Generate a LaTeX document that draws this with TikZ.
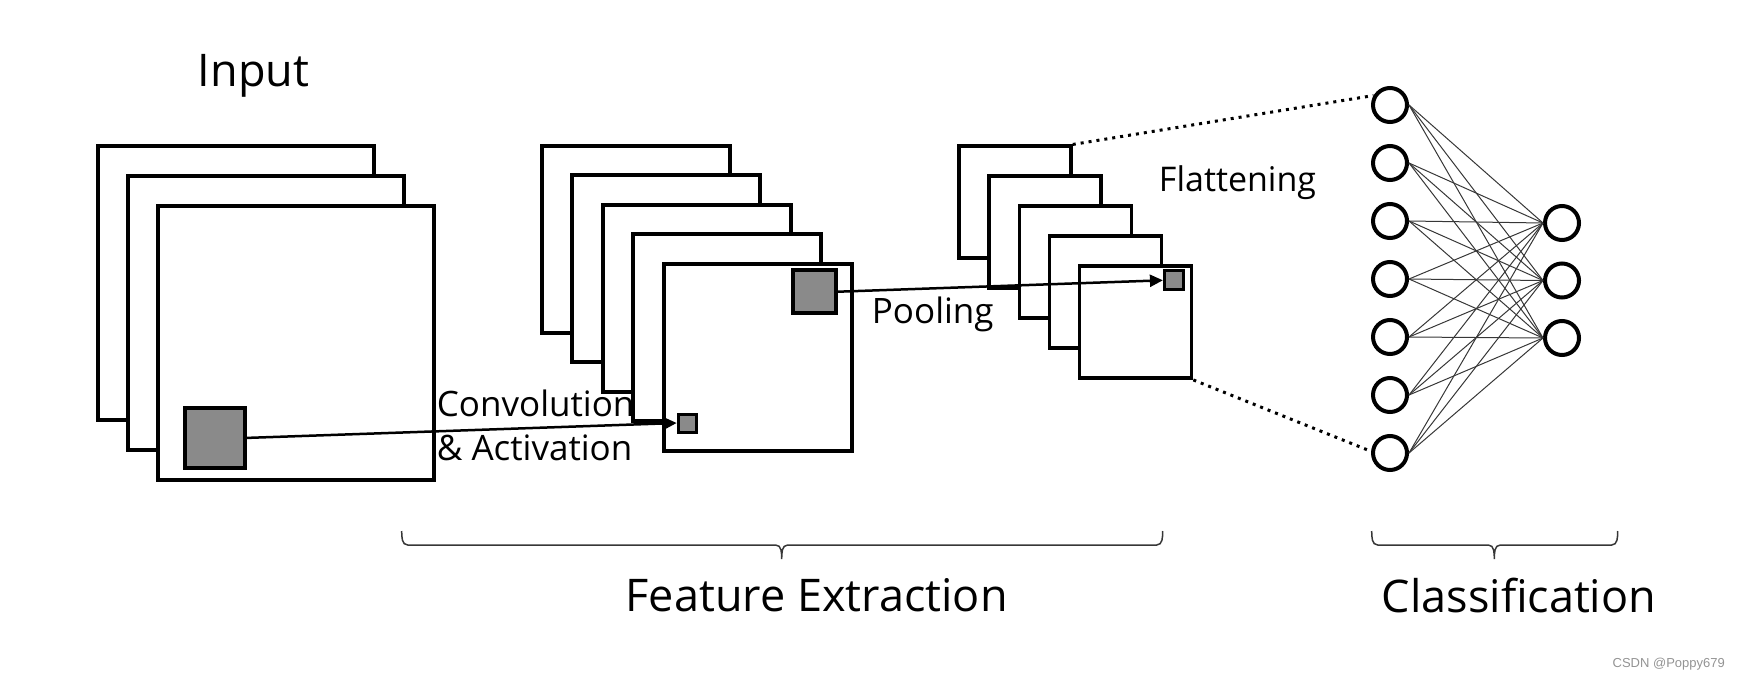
\documentclass[tikz,border=0pt]{standalone}
\usepackage{fontspec}
\setmainfont{Open Sans}
\newfontfamily\markfont{Liberation Sans}
\usepackage{tikz}
\usetikzlibrary{arrows.meta,positioning}
\definecolor{patchgray}{RGB}{138,138,138}
\definecolor{wiregray}{RGB}{55,55,55}
% brace under a group: left x, tip x, right x
\newcommand{\groupbrace}[3]{%
  \draw[brc] (#1,531) to[out=-90,in=180] (#1+6,545) -- (#2-6,545)
    to[out=0,in=90] (#2,559) to[out=90,in=180] (#2+6,545) -- (#3-6,545)
    to[out=0,in=-90] (#3,531);}

\begin{document}
\begin{tikzpicture}[x=1pt,y=-1pt,
  fmap/.style={draw,line width=4pt,fill=white,inner sep=0pt},
  patch/.style={draw,line width=#1,fill=patchgray,inner sep=0pt},
  neuron/.style={draw,circle,line width=4pt,fill=white,minimum size=34pt,inner sep=0pt},
  wire/.style={wiregray,line width=1pt},
  arr/.style={line width=2.5pt,-{Triangle[length=13pt,width=12pt]}},
  flat/.style={line width=3pt,dash pattern=on 3pt off 5pt},
  brc/.style={wiregray,line width=1.5pt},
  lbl/.style={inner sep=0pt,font=\fontsize{35}{43}\selectfont},
  big/.style={inner sep=0pt,font=\fontsize{45}{54}\selectfont}]
\useasboundingbox (0,0) rectangle (1740,680);

% input
\node[big,anchor=base] (intxt) at (253.5,86.7) {Input};
\foreach \i in {0,1,2}
  \node[fmap,minimum width=276pt,minimum height=274pt] (in\i) at ({235.8+30*\i},{283.4+30*\i}) {};
\node[patch=4pt,minimum size=60pt] (inpatch) at (215,437.9) {};

% convolution
\foreach \i in {0,...,4}
  \node[fmap,minimum width=188pt,minimum height=187pt] (cv\i) at ({635.9+30.4*\i},{239.3+29.5*\i}) {};
\node[patch=3pt,minimum size=18pt] (cvpatch) at (687.2,423) {};
\node[patch=4pt,minimum size=43pt] (cvpool) at (814.5,291.7) {};

% pooling
\foreach \i in {0,...,4}
  \node[fmap,line width=3.5pt,minimum size=112pt] (pl\i) at ({1015+30.15*\i},{202.2+30*\i}) {};
\node[patch=3pt,minimum size=19pt] (plpatch) at (1173.9,280.3) {};

\draw[arr] (inpatch.east) -- (cvpatch.west);
\draw[arr] (cvpool.east) -- (plpatch.west);
\node[lbl,anchor=base west] (convtxt) at (436.7,416.7) {Convolution};
\node[lbl,anchor=base west] (acttxt) at (436.7,460) {\& Activation};
\node[lbl,anchor=base west] (pooltxt) at (871.7,323.3) {Pooling};
\node[lbl,font=\fontsize{34}{40}\selectfont,anchor=base] (flattxt) at (1237.5,191.7) {Flattening};

% fully connected part
\foreach \i in {1,...,7}
  \node[neuron] (h\i) at (1390,{47+58*\i}) {};
\foreach \j in {1,2,3}
  \node[neuron] (o\j) at (1562,{165.5+57.5*\j}) {};
\foreach \i in {1,...,7}
  \foreach \j in {1,2,3}
    \draw[wire] (h\i.east) -- (o\j.west);
\draw[flat] (pl0.north east) -- (h1.150);
\draw[flat] (pl4.south east) -- (h7.175);

% groups
\groupbrace{401.7}{781.7}{1162.7}
\groupbrace{1371.7}{1494.3}{1617.7}
\node[big,anchor=base] (fetxt) at (816.7,611.7) {Feature Extraction};
\node[big,anchor=base] (cltxt) at (1519,612.7) {Classification};
\node[anchor=east,inner sep=0pt,text=gray!85,font=\markfont\fontsize{13}{15}\selectfont] (mark) at (1725,664) {CSDN @Poppy679};
\end{tikzpicture}
\end{document}
